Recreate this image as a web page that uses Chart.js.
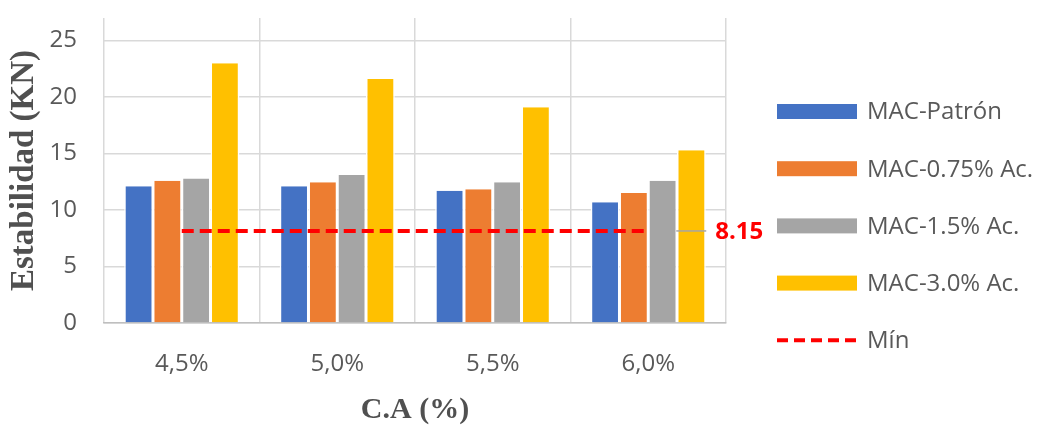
<!DOCTYPE html>
<html>
<head>
<meta charset="utf-8">
<script src="https://cdn.jsdelivr.net/npm/chart.js@4/dist/chart.umd.min.js"></script>
<style>
  html, body { margin: 0; padding: 0; background: #fff; }
  #wrap { width: 1043px; height: 425px; }
</style>
</head>
<body>
<div id="wrap"><canvas id="c" width="1043" height="425"></canvas></div>
<script>
// Asphalt content categories
const categories = ['4,5%', '5,0%', '5,5%', '6,0%'];

// Marshall stability per mix (kN)
const macPatron = [12.1, 12.1, 11.7, 10.7];
const mac075 = [12.6, 12.45, 11.85, 11.5];
const mac15 = [12.8, 13.1, 12.45, 12.6];
const mac30 = [23.0, 21.6, 19.1, 15.3];

// Minimum required stability
const minValue = 8.15;
const minLine = [minValue, minValue, minValue, minValue];

// Value axis tick labels
const yTicks = [0, 5, 10, 15, 20, 25];

const seriesNames = ['MAC-Patrón', 'MAC-0.75% Ac.', 'MAC-1.5% Ac.', 'MAC-3.0% Ac.', 'Mín'];
const seriesColors = ['#4472C4', '#ED7D31', '#A5A5A5', '#FFC000', '#FF0000'];

const TEXT = '#595959';
const GRID = '#D9D9D9';

function bar(i, data) {
  return {
    type: 'bar',
    label: seriesNames[i],
    data: data,
    backgroundColor: seriesColors[i],
    borderColor: '#ffffff',
    borderWidth: { left: 1.5, right: 1.5, top: 0, bottom: 0 },
    borderSkipped: false,
    categoryPercentage: 0.74,
    barPercentage: 1.0,
    order: 2
  };
}

// Label at the end of the minimum line, with a short leader
const minLabelPlugin = {
  id: 'minLabel',
  afterDatasetsDraw(chart) {
    const meta = chart.getDatasetMeta(4);
    const pts = meta.data;
    if (!pts.length) return;
    const last = pts[pts.length - 1];
    const ctx = chart.ctx;
    ctx.save();
    ctx.strokeStyle = '#A5A5A5';
    ctx.lineWidth = 1.5;
    ctx.beginPath();
    ctx.moveTo(last.x + 28, last.y);
    ctx.lineTo(last.x + 58, last.y);
    ctx.stroke();
    ctx.fillStyle = '#FF0000';
    ctx.font = 'bold 24px "Open Sans"';
    ctx.textAlign = 'left';
    ctx.textBaseline = 'middle';
    ctx.fillText(String(minValue), last.x + 67, last.y + 1);
    ctx.restore();
  }
};

// Vertical legend on the right side
const sideLegendPlugin = {
  id: 'sideLegend',
  afterDraw(chart) {
    const ctx = chart.ctx;
    const x0 = chart.chartArea.right + 51;
    const boxW = 80, boxH = 15;
    const y0 = 111.5, step = 57.2;
    ctx.save();
    ctx.font = '24px "Open Sans"';
    ctx.textBaseline = 'middle';
    ctx.textAlign = 'left';
    chart.data.datasets.forEach((ds, i) => {
      const y = y0 + i * step;
      if (ds.type === 'line') {
        ctx.strokeStyle = ds.borderColor;
        ctx.lineWidth = 4;
        ctx.setLineDash([11, 6]);
        ctx.beginPath();
        ctx.moveTo(x0, y);
        ctx.lineTo(x0 + boxW, y);
        ctx.stroke();
        ctx.setLineDash([]);
      } else {
        ctx.fillStyle = ds.backgroundColor;
        ctx.fillRect(x0, y - boxH / 2, boxW, boxH);
      }
      ctx.fillStyle = TEXT;
      ctx.fillText(ds.label, x0 + boxW + 10, y + 1);
    });
    ctx.restore();
  }
};

new Chart(document.getElementById('c'), {
  data: {
    labels: categories,
    datasets: [
      bar(0, macPatron),
      bar(1, mac075),
      bar(2, mac15),
      bar(3, mac30),
      {
        type: 'line',
        label: seriesNames[4],
        data: minLine,
        borderColor: seriesColors[4],
        backgroundColor: seriesColors[4],
        borderWidth: 4,
        borderDash: [12, 6],
        pointRadius: 0,
        fill: false,
        order: 1
      }
    ]
  },
  options: {
    responsive: false,
    animation: false,
    devicePixelRatio: 1,
    layout: { padding: { top: 18, right: 317, left: 0, bottom: 0 } },
    plugins: {
      legend: { display: false },
      tooltip: { enabled: false }
    },
    scales: {
      x: {
        offset: true,
        grid: { display: true, offset: true, color: GRID, lineWidth: 1.5, drawTicks: false },
        border: { display: true, color: '#BFBFBF', width: 1.5 },
        ticks: { color: TEXT, font: { family: 'Open Sans', size: 24 }, padding: 27 },
        title: {
          display: true,
          text: 'C.A (%)',
          color: '#505050',
          font: { family: 'Liberation Serif', size: 30, weight: 'bold', lineHeight: 1 },
          padding: { top: 0, bottom: 0 }
        },
        afterFit(scale) { scale.height = 102; }
      },
      y: {
        min: 0,
        max: 27,
        ticks: { color: TEXT, font: { family: 'Open Sans', size: 24 }, padding: 27 },
        afterBuildTicks(scale) { scale.ticks = yTicks.map(v => ({ value: v })); },
        grid: { color: GRID, lineWidth: 1.5, drawTicks: false },
        border: { display: false },
        title: {
          display: true,
          text: 'Estabilidad (KN)',
          color: '#505050',
          font: { family: 'Liberation Serif', size: 33, weight: 'bold', lineHeight: 1 },
          padding: { top: 8, bottom: 0 }
        },
        afterFit(scale) {
          scale.width = 104;
          scale.paddingTop = 0;
          scale.paddingBottom = 0;
        }
      }
    }
  },
  plugins: [minLabelPlugin, sideLegendPlugin]
});
</script>
</body>
</html>
